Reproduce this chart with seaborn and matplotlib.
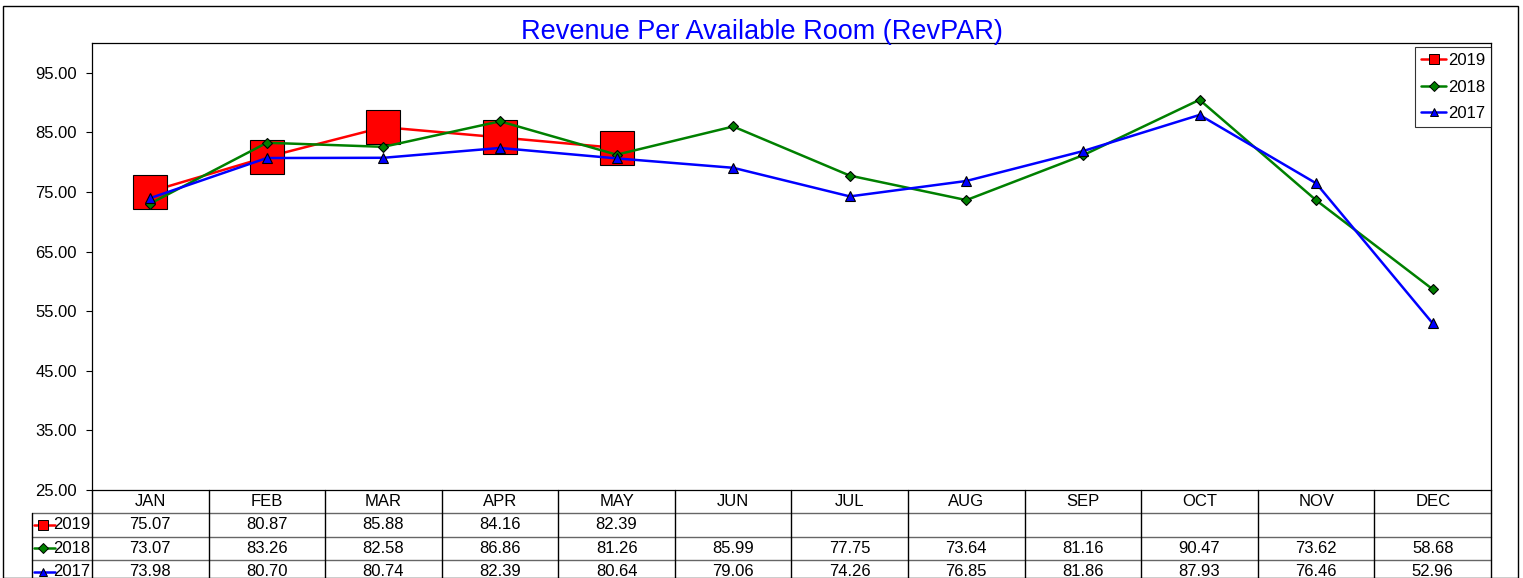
import matplotlib
matplotlib.use("Agg")
import matplotlib.pyplot as plt
import seaborn as sns
from matplotlib.lines import Line2D
from matplotlib.patches import Rectangle

months = ['JAN', 'FEB', 'MAR', 'APR', 'MAY', 'JUN', 'JUL', 'AUG', 'SEP', 'OCT', 'NOV', 'DEC']
rev_2019 = [75.07, 80.87, 85.88, 84.16, 82.39]
rev_2018 = [73.07, 83.26, 82.58, 86.86, 81.26, 85.99, 77.75, 73.64, 81.16, 90.47, 73.62, 58.68]
rev_2017 = [73.98, 80.70, 80.74, 82.39, 80.64, 79.06, 74.26, 76.85, 81.86, 87.93, 76.46, 52.96]
y_ticks = [25, 35, 45, 55, 65, 75, 85, 95]

series = [
    ('2019', rev_2019, '#ff0000', 's', 25, 7),
    ('2018', rev_2018, '#008000', 'D', 5, 5),
    ('2017', rev_2017, '#0000ff', '^', 7, 6),
]

sns.set_style("white")
plt.rcParams['font.family'] = ['Liberation Sans', 'DejaVu Sans']
plt.rcParams['text.color'] = 'black'
plt.rcParams['ytick.color'] = 'black'
plt.rcParams['ytick.labelcolor'] = 'black'

W, H = 1523, 578
fig = plt.figure(figsize=(W / 100, H / 100), dpi=100)

def fx(px):
    return px / W

def fy(py):
    return 1 - py / H

L, R, T, B = 92, 1491, 43, 490
ax = fig.add_axes([fx(L), fy(B), fx(R) - fx(L), fy(T) - fy(B)])

for name, vals, col, mk, ms, _ in series:
    sns.lineplot(x=list(range(len(vals))), y=vals, ax=ax, color=col, marker=mk,
                 markersize=ms, markeredgecolor='black', markeredgewidth=0.8,
                 linewidth=1.8, label=name, legend=False)

ax.set_xlim(-0.5, 11.5)
ax.set_ylim(25, 100)
ax.set_yticks(y_ticks)
ax.set_yticklabels([f'{v:.2f}' for v in y_ticks], fontsize=12)
ax.set_xticks([])
ax.tick_params(axis='y', direction='out', length=4, width=0.8, color='black', left=True, pad=7)
for s in ax.spines.values():
    s.set_color('black')
    s.set_linewidth(0.9)

handles = [Line2D([], [], color=c, marker=m, markersize=lm, markeredgecolor='black',
                  markeredgewidth=0.7, linewidth=1.8, label=n)
           for n, v, c, m, ms, lm in series]
leg = ax.legend(handles=handles, loc='upper right', bbox_to_anchor=(1.0, 1 - 4 / (B - T)),
                fontsize=12, frameon=True, fancybox=False, handlelength=1.5,
                handletextpad=0.1, borderpad=0.35, labelspacing=0.7, borderaxespad=0)
leg.get_frame().set_edgecolor('black')
leg.get_frame().set_linewidth(0.8)

fig.text(0.5, fy(32), 'Revenue Per Available Room (RevPAR)', color='#0000ff',
         fontsize=19.5, ha='center', va='center')

# data table below the plot
row_h = 23.3
tax = fig.add_axes([fx(L), fy(B + 4 * row_h), fx(R) - fx(L), fy(B) - fy(B + 4 * row_h)])
tax.set_xlim(-0.5, 11.5)
tax.set_ylim(4, 0)
tax.axis('off')
colw = (R - L) / 12

def dx(px):
    return (px - L) / colw - 0.5

xl = dx(32)
grid_kw = dict(color='#666666', linewidth=1.0, clip_on=False)
for r in range(1, 5):
    tax.plot([xl, 11.5], [r, r], **grid_kw)
for c in range(13):
    tax.plot([c - 0.5, c - 0.5], [0, 4], color='black', linewidth=1.0, clip_on=False)
tax.plot([xl, xl], [1, 4], color='black', linewidth=1.0, clip_on=False)

for i, m in enumerate(months):
    tax.text(i, 0.5, m, ha='center', va='center', fontsize=12)

for r, (name, vals, col, mk, ms, lm) in enumerate(series, start=1):
    tax.plot([dx(34), dx(55)], [r + 0.5, r + 0.5], color=col, linewidth=1.8, clip_on=False)
    tax.plot([dx(43)], [r + 0.5], marker=mk, markersize=lm, color=col,
             markeredgecolor='black', markeredgewidth=0.7, clip_on=False)
    tax.text(dx(90), r + 0.5, name, ha='right', va='center', fontsize=12)
    for i, v in enumerate(vals):
        tax.text(i, r + 0.5, f'{v:.2f}', ha='center', va='center', fontsize=12)

fig.patches.append(Rectangle((fx(3), 0), fx(1518) - fx(3), fy(6), transform=fig.transFigure,
                             fill=False, edgecolor='black', linewidth=1.0))

fig.savefig('out.png', dpi=100)
